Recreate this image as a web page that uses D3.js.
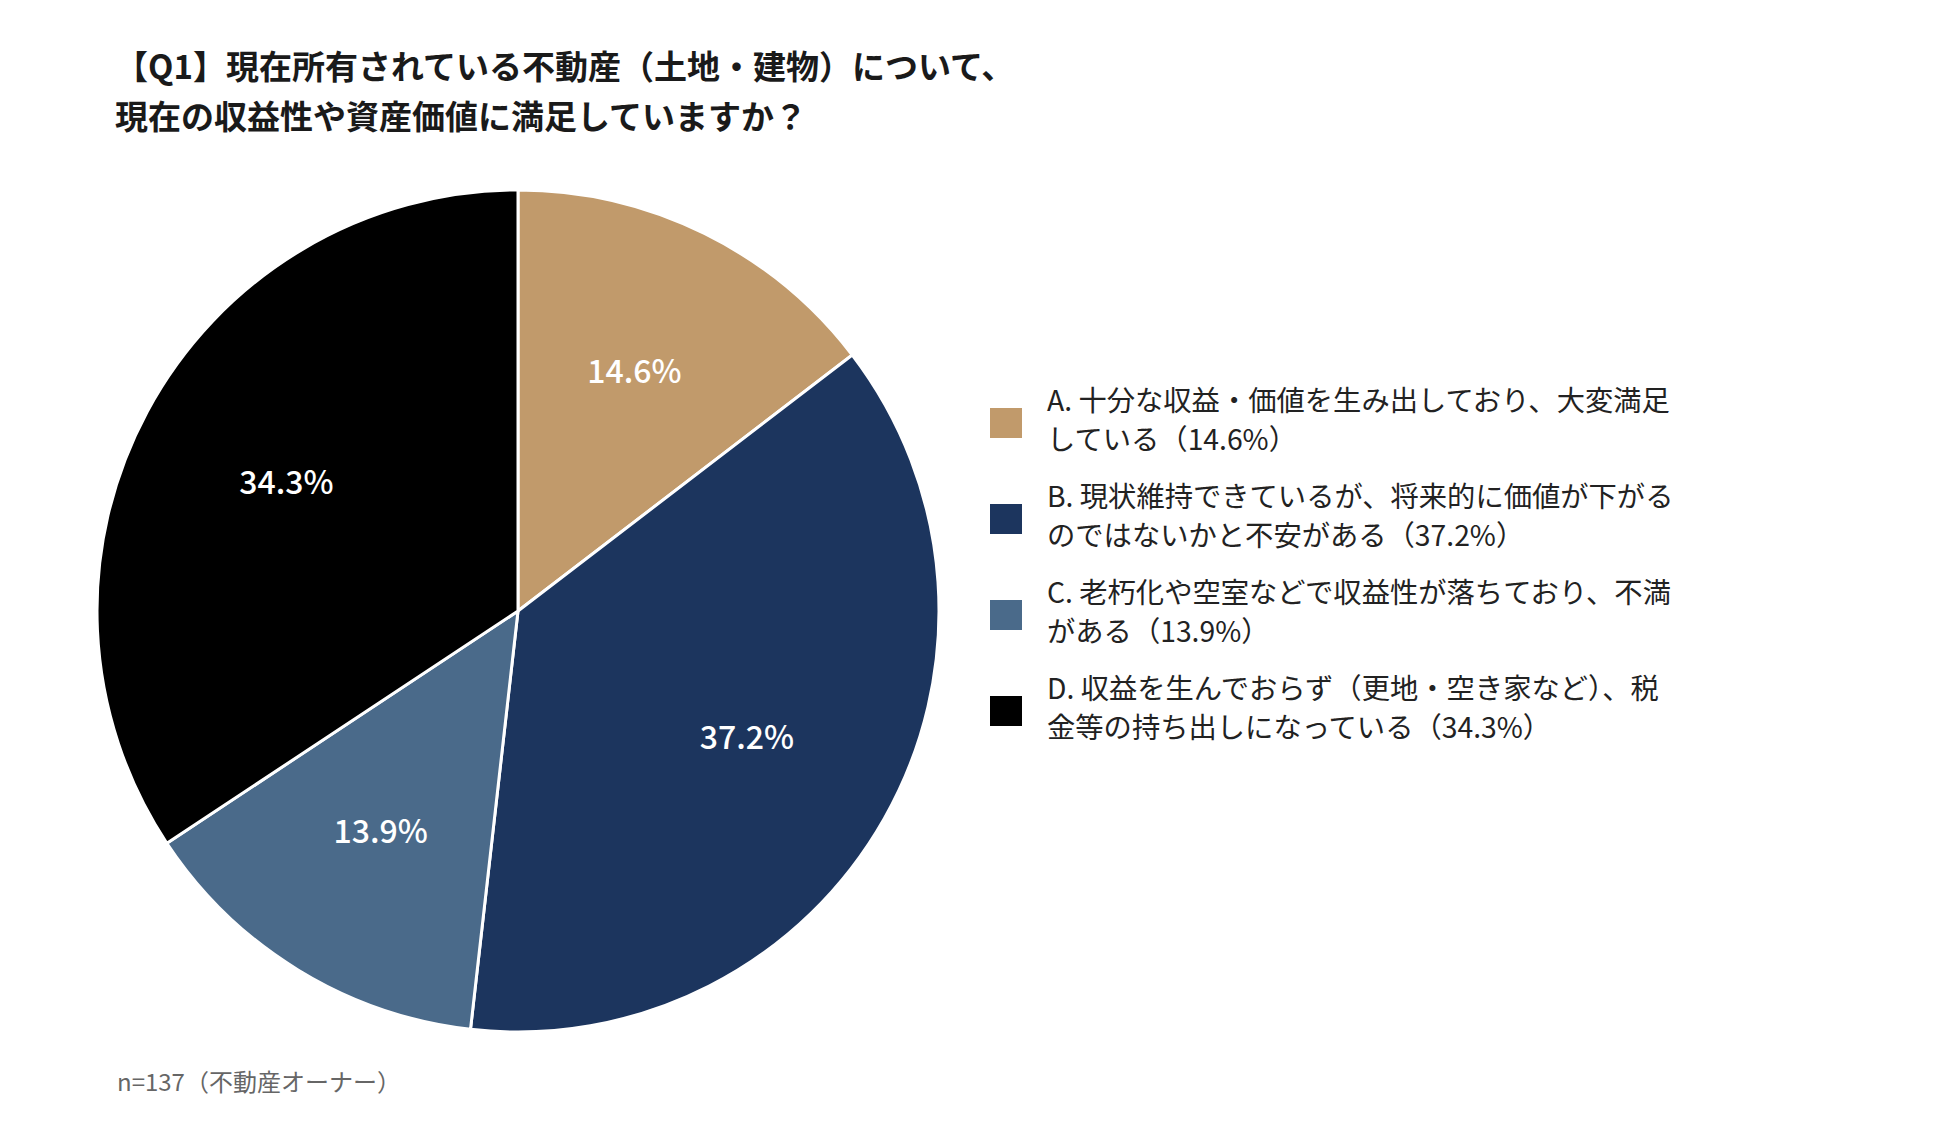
<!DOCTYPE html>
<html><head><meta charset="utf-8">
<script src="https://cdn.jsdelivr.net/npm/d3@7"></script>
<style>
html,body{margin:0;padding:0;background:#fff;}
svg{display:block;font-family:"Noto Sans CJK JP","Noto Sans",sans-serif;}
</style></head>
<body>
<svg id="chart" width="1950" height="1123"></svg>
<script>
const titleLines = ["【Q1】現在所有されている不動産（土地・建物）について、", "現在の収益性や資産価値に満足していますか？"];
const categories = ["A", "B", "C", "D"];
const values = [14.6, 37.2, 13.9, 34.3];
const colors = ["#C19A6B", "#1C355E", "#4A6A8A", "#000000"];
const legendLines = [
  ["A. 十分な収益・価値を生み出しており、大変満足", "している（14.6%）"],
  ["B. 現状維持できているが、将来的に価値が下がる", "のではないかと不安がある（37.2%）"],
  ["C. 老朽化や空室などで収益性が落ちており、不満", "がある（13.9%）"],
  ["D. 収益を生んでおらず（更地・空き家など）、税", "金等の持ち出しになっている（34.3%）"]
];
const footnote = "n=137（不動産オーナー）";

const svg = d3.select("#chart");

svg.append("g").selectAll("text").data(titleLines).join("text")
  .attr("x", 115).attr("y", (d, i) => 65 + i * 50)
  .attr("dominant-baseline", "central")
  .attr("font-size", 33).attr("font-weight", 600).attr("fill", "#1a1a1a")
  .text(d => d);

const cx = 518, cy = 611, r = 421;
const data = categories.map((c, i) => ({cat: c, value: values[i], color: colors[i]}));
const pie = d3.pie().value(d => d.value).sort(null);
const arc = d3.arc().innerRadius(0).outerRadius(r);
const labelArc = d3.arc().innerRadius(263).outerRadius(263);
const arcs = pie(data);

const g = svg.append("g").attr("transform", `translate(${cx},${cy})`);
g.selectAll("path").data(arcs).join("path")
  .attr("d", arc).attr("fill", d => d.data.color)
  .attr("stroke", "#fff").attr("stroke-width", 3).attr("stroke-linejoin", "round");
g.selectAll("text").data(arcs).join("text")
  .attr("transform", d => { const c = labelArc.centroid(d); return `translate(${c[0]},${c[1] - 6})`; })
  .attr("text-anchor", "middle").attr("dominant-baseline", "central")
  .attr("font-size", 32).attr("font-weight", 500).attr("fill", "#fff")
  .text(d => d3.format(".1f")(d.data.value) + "%");

const leg = svg.append("g");
const items = leg.selectAll("g").data(data).join("g")
  .attr("transform", (d, i) => `translate(0,${i * 96})`);
items.append("rect")
  .attr("x", 990).attr("y", 408).attr("width", 32).attr("height", 30)
  .attr("fill", d => d.color);
items.each(function(d, i) {
  d3.select(this).selectAll("text").data(legendLines[i]).join("text")
    .attr("x", 1047).attr("y", (t, j) => 398 + j * 39)
    .attr("dominant-baseline", "central")
    .attr("font-size", 28.3).attr("fill", "#222")
    .text(t => t);
});

svg.append("text").attr("x", 117).attr("y", 1080)
  .attr("dominant-baseline", "central")
  .attr("font-size", 24).attr("fill", "#666")
  .text(footnote);
</script>
</body></html>
